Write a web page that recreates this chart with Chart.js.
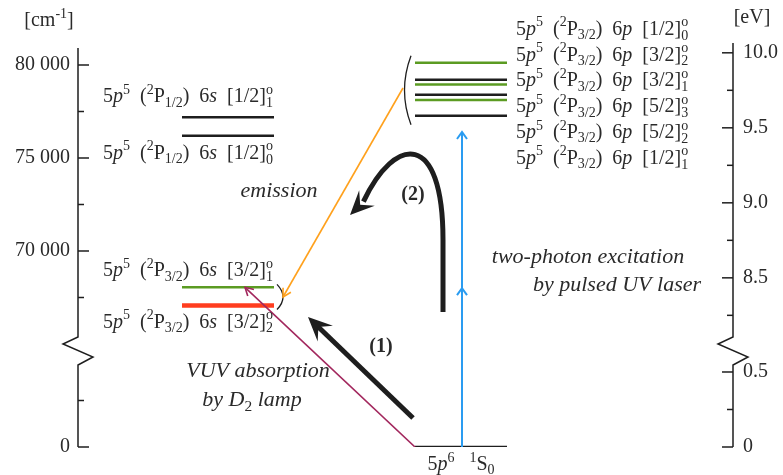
<!DOCTYPE html>
<html lang="en">
<head>
<meta charset="UTF-8">
<title>Xenon level scheme</title>
<script src="https://cdn.jsdelivr.net/npm/chart.js"></script>
<style>
  body { margin: 0; background: #fff; }
</style>
</head>
<body>
<canvas id="scheme" width="783" height="475"></canvas>
<script>
// level energies in cm^-1
const groundEnergy = 0;
const sEnergies = [67068, 68046];                 // 6s [3/2]2, [3/2]1
const sKJ = [['3/2', '2'], ['3/2', '1']];
const sPrimeEnergies = [76197, 77185];            // 6s' [1/2]0, [1/2]1
const sPrimeKJ = [['1/2', '0'], ['1/2', '1']];
const pEnergies = [80119, 79212, 78956, 78403, 78120, 77269];  // 6p, top to bottom
const pKJ = [['1/2', '0'], ['3/2', '2'], ['3/2', '1'], ['5/2', '3'], ['5/2', '2'], ['1/2', '1']];

// axis ticks
const cmTicks = [0, 70000, 75000, 80000];
const cmMinorTicks = [2500, 67500, 72500, 77500];
const evTicks = [0, 0.5, 8.5, 9.0, 9.5, 10.0];
const evMinorTicks = [0.25, 8.25, 8.75, 9.25, 9.75];

// transitions, points as [x, energy]
const vuvPath = [[337, 0], [167, 68046]];
const emissionPath = [[325, 78763], [205, 67527]];
const laserX = 384;
const laserHeads = [68000, 76400];
const arrow1 = [[335, 1559], [230, 66452]];
const arrow2 = [[365, 66720], [365, 70591], [365, 76505], [317, 76237], [284, 72581], [272, 71935]];

// layout
const sCol = [104, 196];
const pCol = [337, 429];
const CM_PER_EV = 8065.54;
const SHIFT = 59462;                    // cm^-1 cut out by the axis break
const TOP = 21452;
const BREAK = [5914, 5538, 4839, 4409];
const v = E => E > 30000 ? E - SHIFT : E;

const INK = '#1e1e1e', TXT = '#2a2a2a', GREEN = '#5b9b22', RED = '#ff3d1f';
const ORANGE = '#ffa11d', PURPLE = '#a2275d', BLUE = '#2a9cf1';
const SERIF = '"Liberation Serif", "DejaVu Serif", serif';
const sColors = [RED, GREEN];
const sWidths = [4.5, 2.5];
const pColors = [GREEN, INK, GREEN, INK, GREEN, INK];

function seg(x0, E0, x1, E1, color, width) {
    return {
        data: [{x: x0, y: v(E0)}, {x: x1, y: v(E1)}],
        borderColor: color, borderWidth: width, showLine: true,
        pointRadius: 0, borderCapStyle: 'butt', fill: false
    };
}

const datasets = [];
datasets.push(seg(vuvPath[0][0], vuvPath[0][1], vuvPath[1][0], vuvPath[1][1], PURPLE, 1.6));
datasets.push(seg(emissionPath[0][0], emissionPath[0][1], emissionPath[1][0], emissionPath[1][1], ORANGE, 1.6));
datasets.push(seg(laserX, groundEnergy, laserX, laserHeads[1], BLUE, 2));
datasets.push(seg(pCol[0], groundEnergy, pCol[1], groundEnergy, INK, 2.5));
sEnergies.forEach((E, i) => datasets.push(seg(sCol[0], E, sCol[1], E, sColors[i], sWidths[i])));
sPrimeEnergies.forEach(E => datasets.push(seg(sCol[0], E, sCol[1], E, INK, 2.5)));
pEnergies.forEach((E, i) => datasets.push(seg(pCol[0], E, pCol[1], E, pColors[i], 2.5)));

const font = (style, size) => `${style} ${size}px ${SERIF}`;

function drawRich(c, parts, x, y, size, align) {
    const sm = size * 0.7;
    const items = parts.map(([t, k]) => {
        if (k === 'st') {
            c.font = font('', sm);
            return {t, k, w: Math.max(...t.map(s => c.measureText(s).width))};
        }
        c.font = font(k === 'i' ? 'italic' : k === 'b' ? 'bold' : '', (k === 'u' || k === 'd') ? sm : size);
        return {t, k, w: c.measureText(t).width};
    });
    const total = items.reduce((a, b) => a + b.w, 0);
    let cx = align === 'center' ? x - total / 2 : align === 'right' ? x - total : x;
    c.textAlign = 'left';
    c.textBaseline = 'alphabetic';
    items.forEach(it => {
        if (it.k === 'st') {
            c.font = font('', sm);
            c.fillText(it.t[0], cx, y - size * 0.42);
            c.fillText(it.t[1], cx, y + size * 0.24);
        } else {
            c.font = font(it.k === 'i' ? 'italic' : it.k === 'b' ? 'bold' : '', (it.k === 'u' || it.k === 'd') ? sm : size);
            const dy = it.k === 'u' ? -size * 0.42 : it.k === 'd' ? size * 0.22 : 0;
            c.fillText(it.t, cx, y + dy);
        }
        cx += it.w;
    });
}

function levelParts(core, orb, K, J) {
    return [['5', 'r'], ['p', 'i'], ['5', 'u'], ['  (', 'r'], ['2', 'u'], ['P', 'r'], [core, 'd'],
            [')  6', 'r'], [orb, 'i'], ['  [' + K + ']', 'r'], [['o', J], 'st']];
}

function stealth(c, x0, y0, x1, y1, L, W) {
    const d = Math.hypot(x1 - x0, y1 - y0), ux = (x1 - x0) / d, uy = (y1 - y0) / d;
    c.beginPath();
    c.moveTo(x1, y1);
    c.lineTo(x1 - ux * L - uy * W, y1 - uy * L + ux * W);
    c.lineTo(x1 - ux * L * 0.6, y1 - uy * L * 0.6);
    c.lineTo(x1 - ux * L + uy * W, y1 - uy * L - ux * W);
    c.closePath();
    c.fill();
}

function chevron(c, x0, y0, x1, y1, L, W) {
    const d = Math.hypot(x1 - x0, y1 - y0), ux = (x1 - x0) / d, uy = (y1 - y0) / d;
    c.beginPath();
    c.moveTo(x1 - ux * L - uy * W, y1 - uy * L + ux * W);
    c.lineTo(x1, y1);
    c.lineTo(x1 - ux * L + uy * W, y1 - uy * L - ux * W);
    c.stroke();
}

function drawAxis(c, x0, scale, dir, top) {
    const py = val => scale.getPixelForValue(val);
    const z = BREAK.map(py);
    c.strokeStyle = INK;
    c.lineWidth = 1.5;
    c.beginPath();
    c.moveTo(x0, top);
    c.lineTo(x0, z[0]);
    c.lineTo(x0 - 15, z[1]);
    c.lineTo(x0 + 15, z[2]);
    c.lineTo(x0, z[3]);
    c.lineTo(x0, py(0));
    c.stroke();
    scale.ticks.forEach(t => {
        const y = py(t.value);
        c.beginPath();
        c.moveTo(x0, y);
        c.lineTo(x0 + dir * (t.mj ? 11 : 6), y);
        c.stroke();
    });
}

const scheme = {
    id: 'scheme',
    afterDraw(chart) {
        const c = chart.ctx, area = chart.chartArea;
        const xs = chart.scales.x, ys = chart.scales.y;
        const X = x => xs.getPixelForValue(x);
        const Y = E => ys.getPixelForValue(v(E));
        c.save();

        drawAxis(c, area.left, ys, 1, area.top);
        drawAxis(c, area.right, chart.scales.yr, -1, area.top - 5);

        // brackets around level groups
        c.strokeStyle = INK;
        c.lineWidth = 1.3;
        const pbx = X(pCol[0]) - 5, pbt = Y(pEnergies[0]) - 7, pbb = Y(pEnergies[5]) + 9;
        c.beginPath();
        c.moveTo(pbx + 1, pbt);
        c.quadraticCurveTo(pbx - 12, (pbt + pbb) / 2, pbx + 1, pbb);
        c.stroke();
        const sbx = X(sCol[1]) + 3, sbt = Y(sEnergies[1]) - 3, sbb = Y(sEnergies[0]) + 4;
        c.beginPath();
        c.moveTo(sbx, sbt);
        c.quadraticCurveTo(sbx + 12, (sbt + sbb) / 2, sbx, sbb);
        c.stroke();

        // thin arrowheads
        c.lineWidth = 1.6;
        c.strokeStyle = PURPLE;
        chevron(c, X(vuvPath[0][0]), Y(vuvPath[0][1]), X(vuvPath[1][0]), Y(vuvPath[1][1]), 8, 4.5);
        c.strokeStyle = ORANGE;
        chevron(c, X(emissionPath[0][0]), Y(emissionPath[0][1]), X(emissionPath[1][0]), Y(emissionPath[1][1]), 8, 4.5);
        c.strokeStyle = BLUE;
        c.lineWidth = 2;
        laserHeads.forEach(E => chevron(c, X(laserX), Y(0), X(laserX), Y(E), 7, 5));

        // thick arrow (1)
        c.strokeStyle = INK;
        c.fillStyle = INK;
        c.lineWidth = 5;
        c.lineCap = 'butt';
        const a0x = X(arrow1[0][0]), a0y = Y(arrow1[0][1]), a1x = X(arrow1[1][0]), a1y = Y(arrow1[1][1]);
        const d1 = Math.hypot(a1x - a0x, a1y - a0y);
        c.beginPath();
        c.moveTo(a0x, a0y);
        c.lineTo(a1x - (a1x - a0x) / d1 * 14, a1y - (a1y - a0y) / d1 * 14);
        c.stroke();
        stealth(c, a0x, a0y, a1x, a1y, 24, 11);

        // curved arrow (2)
        const q = arrow2.map(([x, E]) => [X(x), Y(E)]);
        const hx = q[4][0] - q[5][0], hy = q[4][1] - q[5][1], hd = Math.hypot(hx, hy);
        c.beginPath();
        c.moveTo(q[0][0], q[0][1]);
        c.lineTo(q[1][0], q[1][1]);
        c.bezierCurveTo(q[2][0], q[2][1], q[3][0], q[3][1], q[4][0] + hx / hd * 2, q[4][1] + hy / hd * 2);
        c.stroke();
        stealth(c, q[4][0] + hx / hd * 10, q[4][1] + hy / hd * 10, q[5][0], q[5][1], 24, 11);

        // level labels
        c.fillStyle = TXT;
        const LS = 20;
        const lx = X(25), rx = X(438);
        drawRich(c, levelParts('1/2', 's', ...sPrimeKJ[1]), lx, Y(sPrimeEnergies[1]) - 15, LS, 'left');
        drawRich(c, levelParts('1/2', 's', ...sPrimeKJ[0]), lx, Y(sPrimeEnergies[0]) + 23, LS, 'left');
        drawRich(c, levelParts('3/2', 's', ...sKJ[1]), lx, Y(sEnergies[1]) - 11, LS, 'left');
        drawRich(c, levelParts('3/2', 's', ...sKJ[0]), lx, Y(sEnergies[0]) + 22, LS, 'left');
        const p0 = Y(pEnergies[0]) - 28;
        pKJ.forEach((kj, i) => drawRich(c, levelParts('3/2', 'p', ...kj), rx, p0 + 25.8 * i, LS, 'left'));
        drawRich(c, [['5', 'r'], ['p', 'i'], ['6', 'u'], ['   ', 'r'], ['1', 'u'], ['S', 'r'], ['0', 'd']],
                 X(383), Y(groundEnergy) + 23, LS, 'center');

        // process labels
        drawRich(c, [['emission', 'i']], X(201), Y(72903), 22, 'center');
        drawRich(c, [['(2)', 'b']], X(335), Y(72742), 20, 'center');
        drawRich(c, [['(1)', 'b']], X(303), Y(64570), 20, 'center');
        drawRich(c, [['two-photon excitation', 'i']], X(510), Y(69355), 22, 'center');
        drawRich(c, [['by pulsed UV laser', 'i']], X(539), Y(67849), 22, 'center');
        drawRich(c, [['VUV absorption', 'i']], X(180), Y(3760), 22, 'center');
        drawRich(c, [['by D', 'i'], ['2', 'd'], [' lamp', 'i']], X(174), Y(2200), 22, 'center');

        // axis units
        drawRich(c, [['[cm', 'r'], ['-1', 'u'], [']', 'r']], area.left - 29, area.top - 22, 20, 'center');
        drawRich(c, [['[eV]', 'r']], area.right + 19, area.top - 25, 20, 'center');
        c.restore();
    }
};

function tickList(major, minor, toE) {
    return [...major.map(t => ({value: v(toE(t)), mj: true, lab: t})),
            ...minor.map(t => ({value: v(toE(t)), mj: false, lab: t}))]
        .sort((a, b) => a.value - b.value);
}

const tickFont = {family: SERIF, size: 20};

new Chart(document.getElementById('scheme').getContext('2d'), {
    type: 'scatter',
    data: {datasets},
    options: {
        responsive: false,
        animation: false,
        layout: {padding: {top: 48, bottom: 28, left: 0, right: 0}},
        plugins: {legend: {display: false}, tooltip: {enabled: false}},
        scales: {
            x: {type: 'linear', min: 0, max: 655, display: false},
            y: {
                type: 'linear', position: 'left', min: 0, max: TOP,
                grid: {display: false, drawTicks: false}, border: {display: false},
                afterBuildTicks: s => { s.ticks = tickList(cmTicks, cmMinorTicks, E => E); },
                afterFit: s => { s.width = 78; },
                ticks: {
                    autoSkip: false, padding: 8, color: TXT, font: tickFont,
                    callback: (val, i, ticks) => {
                        const t = ticks[i];
                        if (!t.mj) return '';
                        return t.lab === 0 ? '0' : `${t.lab / 1000} 000`;
                    }
                }
            },
            yr: {
                type: 'linear', position: 'right', min: 0, max: TOP,
                grid: {display: false, drawTicks: false}, border: {display: false},
                afterBuildTicks: s => { s.ticks = tickList(evTicks, evMinorTicks, e => e * CM_PER_EV); },
                afterFit: s => { s.width = 50; },
                ticks: {
                    autoSkip: false, padding: 10, color: TXT, font: tickFont,
                    callback: (val, i, ticks) => {
                        const t = ticks[i];
                        if (!t.mj) return '';
                        return t.lab === 0 ? '0' : t.lab.toFixed(1);
                    }
                }
            }
        }
    },
    plugins: [scheme]
});
</script>
</body>
</html>
